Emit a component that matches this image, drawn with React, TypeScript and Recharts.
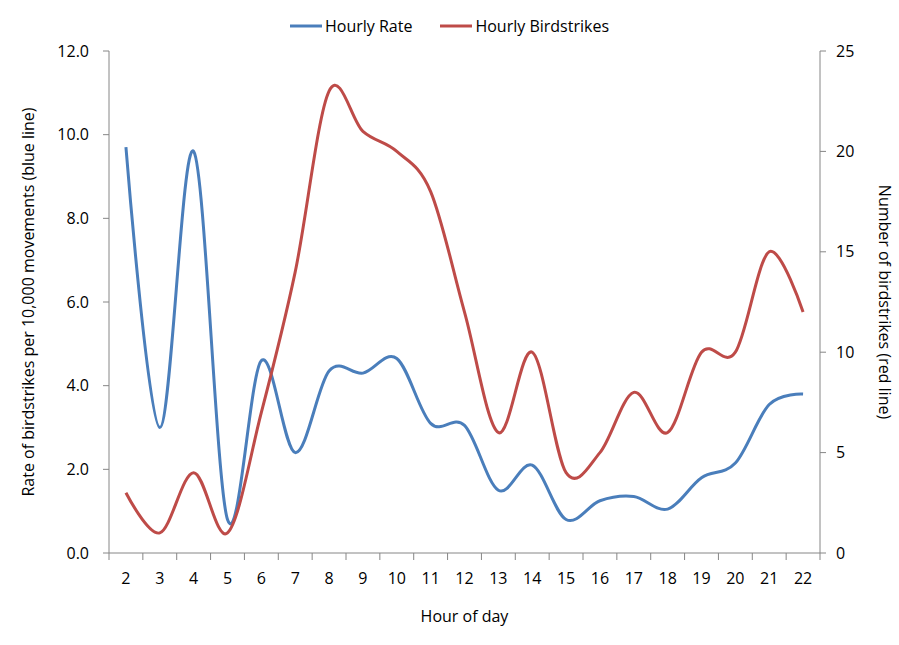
import React from 'react';
import { LineChart, Line, XAxis, YAxis, Legend, Label } from 'recharts';

const hours = [2, 3, 4, 5, 6, 7, 8, 9, 10, 11, 12, 13, 14, 15, 16, 17, 18, 19, 20, 21, 22];
const hourlyRate = [9.7, 3.0, 9.6, 0.8, 4.6, 2.4, 4.35, 4.3, 4.65, 3.1, 3.05, 1.5, 2.1, 0.8, 1.25, 1.35, 1.05, 1.8, 2.15, 3.55, 3.8];
const hourlyBirdstrikes = [3, 1, 4, 1, 7, 14, 23, 21, 20, 18, 12, 6, 10, 4, 5, 8, 6, 10, 10, 15, 12];
const boundaryTicks = [1.5, 2.5, 3.5, 4.5, 5.5, 6.5, 7.5, 8.5, 9.5, 10.5, 11.5, 12.5, 13.5, 14.5, 15.5, 16.5, 17.5, 18.5, 19.5, 20.5, 21.5, 22.5];
const leftTicks = [0, 2, 4, 6, 8, 10, 12];
const rightTicks = [0, 5, 10, 15, 20, 25];

const seriesNames = { rate: 'Hourly Rate', strikes: 'Hourly Birdstrikes' };
const BLUE = '#4A7EBB';
const RED = '#BE4B48';
const AXIS = '#868686';
const FONT = '"Open Sans", "Noto Sans", sans-serif';

const data = hours.map((h, i) => ({ hour: h, rate: hourlyRate[i], strikes: hourlyBirdstrikes[i] }));

// Catmull-Rom style smoothing (similar to Excel's smoothed lines)
class SmoothCurve {
  _context: any;
  _k = 1 / 6;
  _line = NaN;
  _point = 0;
  _x0 = NaN; _x1 = NaN; _x2 = NaN; _y0 = NaN; _y1 = NaN; _y2 = NaN;
  constructor(context: any) { this._context = context; }
  areaStart() { this._line = 0; }
  areaEnd() { this._line = NaN; }
  lineStart() {
    this._x0 = this._x1 = this._x2 = this._y0 = this._y1 = this._y2 = NaN;
    this._point = 0;
  }
  seg(x: number, y: number) {
    this._context.bezierCurveTo(
      this._x1 + this._k * (this._x2 - this._x0),
      this._y1 + this._k * (this._y2 - this._y0),
      this._x2 + this._k * (this._x1 - x),
      this._y2 + this._k * (this._y1 - y),
      this._x2,
      this._y2
    );
  }
  lineEnd() {
    switch (this._point) {
      case 2: this._context.lineTo(this._x2, this._y2); break;
      case 3: this.seg(this._x1, this._y1); break;
    }
    if (this._line || (this._line !== 0 && this._point === 1)) this._context.closePath();
    this._line = 1 - this._line;
  }
  point(x: number, y: number) {
    x = +x; y = +y;
    switch (this._point) {
      case 0:
        this._point = 1;
        if (this._line) this._context.lineTo(x, y); else this._context.moveTo(x, y);
        break;
      case 1:
        this._point = 2; this._x1 = x; this._y1 = y;
        break;
      case 2:
        this._point = 3;
        this.seg(x, y);
        break;
      default:
        this.seg(x, y);
        break;
    }
    this._x0 = this._x1; this._x1 = this._x2; this._x2 = x;
    this._y0 = this._y1; this._y1 = this._y2; this._y2 = y;
  }
}
const smooth = (context: any) => new SmoothCurve(context);

const LegendContent = () => (
  <div style={{ height: 24, display: 'flex', justifyContent: 'center', alignItems: 'center', fontFamily: FONT, fontSize: 16, color: '#000' }}>
    {[{ name: seriesNames.rate, color: BLUE }, { name: seriesNames.strikes, color: RED }].map((it, i) => (
      <div key={it.name} style={{ display: 'flex', alignItems: 'center', marginLeft: i ? 28 : 0 }}>
        <svg width={32} height={6} style={{ marginRight: 3 }}>
          <line x1={0} y1={3} x2={32} y2={3} stroke={it.color} strokeWidth={3} />
        </svg>
        <span>{it.name}</span>
      </div>
    ))}
  </div>
);

const LeftTitle = (props: any) => {
  const vb = props.viewBox || {};
  const cx = vb.x + 28;
  const cy = vb.y + vb.height / 2;
  return (
    <text x={cx} y={cy} transform={`rotate(-90 ${cx} ${cy})`} textAnchor="middle" dominantBaseline="central" fill="#000" fontSize={16} fontFamily={FONT}>
      Rate of birdstrikes per 10,000 movements (blue line)
    </text>
  );
};

const RightTitle = (props: any) => {
  const vb = props.viewBox || {};
  const cx = vb.x + vb.width - 14;
  const cy = vb.y + vb.height / 2;
  return (
    <text x={cx} y={cy} transform={`rotate(90 ${cx} ${cy})`} textAnchor="middle" dominantBaseline="central" fill="#000" fontSize={16} fontFamily={FONT}>
      Number of birdstrikes (red line)
    </text>
  );
};

export default function App() {
  return (
    <div style={{ position: 'absolute', left: 0, top: 0, width: 899, height: 645, background: '#fff', fontFamily: FONT }}>
      <LineChart width={899} height={645} data={data} margin={{ top: 27, right: 0, bottom: 0, left: 0 }}>
        <Legend verticalAlign="top" height={24} content={<LegendContent />} wrapperStyle={{ top: 14, left: 0, width: 899 }} />
        <XAxis
          xAxisId={0}
          type="number"
          dataKey="hour"
          domain={[1.5, 22.5]}
          ticks={boundaryTicks}
          interval={0}
          tickFormatter={() => ''}
          tickSize={7}
          height={1}
          stroke={AXIS}
          axisLine={{ stroke: AXIS }}
          tickLine={{ stroke: AXIS }}
          allowDataOverflow
        />
        <XAxis
          xAxisId="labels"
          type="number"
          dataKey="hour"
          domain={[1.5, 22.5]}
          ticks={hours}
          interval={0}
          height={91}
          axisLine={false}
          tickLine={false}
          tickSize={6}
          tickMargin={13}
          tick={{ fill: '#000', fontSize: 16, fontFamily: FONT }}
        >
          <Label value="Hour of day" position="insideTop" offset={57} fill="#000" fontSize={16} fontFamily={FONT} />
        </XAxis>
        <YAxis
          yAxisId="left"
          orientation="left"
          width={109}
          domain={[0, 12]}
          ticks={leftTicks}
          interval={0}
          tickFormatter={(v: number) => v.toFixed(1)}
          tickSize={6}
          tickMargin={14}
          axisLine={{ stroke: AXIS }}
          tickLine={{ stroke: AXIS }}
          tick={{ fill: '#000', fontSize: 16, fontFamily: FONT }}
        >
          <Label content={<LeftTitle />} />
        </YAxis>
        <YAxis
          yAxisId="right"
          orientation="right"
          width={79}
          domain={[0, 25]}
          ticks={rightTicks}
          interval={0}
          tickSize={6}
          tickMargin={10}
          axisLine={{ stroke: AXIS }}
          tickLine={{ stroke: AXIS }}
          tick={{ fill: '#000', fontSize: 16, fontFamily: FONT }}
        >
          <Label content={<RightTitle />} />
        </YAxis>
        <Line
          xAxisId={0}
          yAxisId="left"
          dataKey="rate"
          name={seriesNames.rate}
          type={smooth as any}
          stroke={BLUE}
          strokeWidth={3}
          dot={false}
          isAnimationActive={false}
        />
        <Line
          xAxisId={0}
          yAxisId="right"
          dataKey="strikes"
          name={seriesNames.strikes}
          type={smooth as any}
          stroke={RED}
          strokeWidth={3}
          dot={false}
          isAnimationActive={false}
        />
      </LineChart>
    </div>
  );
}
